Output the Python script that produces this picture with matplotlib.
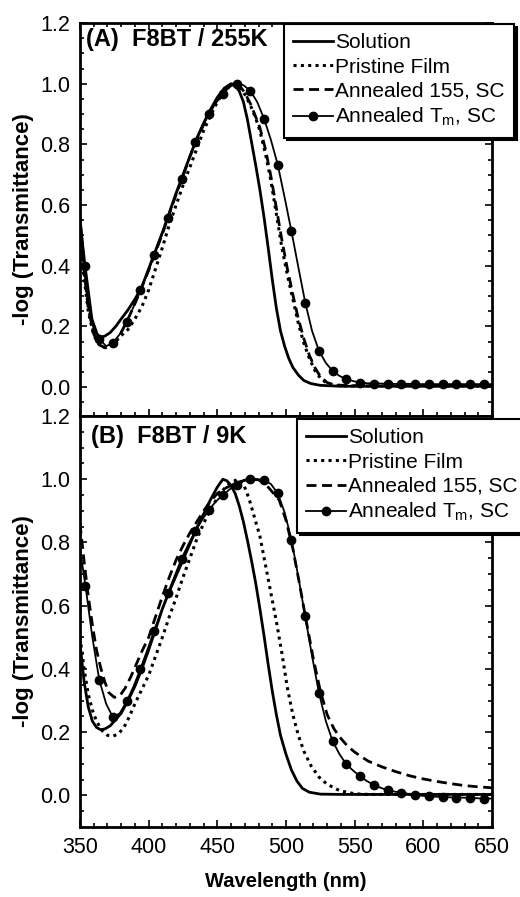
import matplotlib
matplotlib.use('Agg')
import matplotlib.pyplot as plt
from matplotlib.ticker import MultipleLocator

plt.rcParams['font.family'] = ['Liberation Sans', 'DejaVu Sans']
plt.rcParams['mathtext.fontset'] = 'custom'
plt.rcParams['mathtext.rm'] = 'Liberation Sans'
plt.rcParams['mathtext.it'] = 'Liberation Sans:italic'
plt.rcParams['mathtext.bf'] = 'Liberation Sans:bold'

# ---------------- Panel A: F8BT / 255K ----------------
a_sol_wl = [350, 353, 356, 359, 362, 365, 368, 372, 376, 380, 385, 390, 395, 400, 405, 410,
            415, 420, 425, 430, 435, 440, 445, 450, 455, 460, 463, 466, 469, 472, 475, 478,
            481, 484, 487, 490, 493, 496, 499, 502, 505, 509, 513, 518, 525, 540, 560, 600, 650]
a_sol_v = [0.56, 0.40, 0.28, 0.21, 0.175, 0.165, 0.168, 0.18, 0.20, 0.225, 0.255, 0.29, 0.33,
           0.39, 0.45, 0.51, 0.575, 0.64, 0.70, 0.76, 0.82, 0.87, 0.915, 0.955, 0.985, 1.0,
           0.995, 0.975, 0.94, 0.88, 0.805, 0.73, 0.65, 0.56, 0.46, 0.355, 0.26, 0.185, 0.135,
           0.095, 0.065, 0.04, 0.022, 0.012, 0.006, 0.003, 0.003, 0.003, 0.003]

a_pri_wl = [350, 353, 356, 360, 364, 368, 372, 376, 380, 385, 390, 395, 400, 405, 410, 415,
            420, 425, 430, 435, 440, 445, 450, 455, 460, 463, 466, 470, 474, 478, 481, 485,
            489, 493, 497, 501, 505, 509, 513, 517, 521, 525, 530, 535, 545, 600, 650]
a_pri_v = [0.50, 0.36, 0.25, 0.17, 0.14, 0.13, 0.135, 0.15, 0.17, 0.19, 0.225, 0.265, 0.32,
           0.39, 0.46, 0.535, 0.60, 0.665, 0.725, 0.785, 0.845, 0.895, 0.94, 0.975, 0.995,
           1.0, 0.99, 0.965, 0.93, 0.885, 0.845, 0.77, 0.68, 0.57, 0.46, 0.37, 0.29, 0.21,
           0.145, 0.095, 0.055, 0.03, 0.012, 0.006, 0.004, 0.004, 0.004]

a_155_wl = [350, 353, 356, 360, 364, 368, 372, 376, 380, 385, 390, 395, 400, 405, 410, 415,
            420, 425, 430, 435, 440, 445, 450, 455, 460, 463, 466, 470, 474, 478, 481, 485,
            489, 493, 497, 501, 505, 509, 513, 517, 521, 525, 530, 535, 545, 600, 650]
a_155_v = [0.55, 0.38, 0.26, 0.175, 0.14, 0.13, 0.135, 0.15, 0.18, 0.225, 0.275, 0.33, 0.385,
           0.445, 0.505, 0.57, 0.635, 0.695, 0.76, 0.815, 0.865, 0.91, 0.948, 0.978, 0.996,
           1.0, 0.995, 0.97, 0.935, 0.89, 0.855, 0.785, 0.695, 0.59, 0.485, 0.39, 0.305,
           0.225, 0.16, 0.105, 0.065, 0.035, 0.015, 0.008, 0.005, 0.005, 0.005]

a_tm_wl = [350] + list(range(354, 650, 5))
a_tm_v = [0.56, 0.40, 0.225, 0.16, 0.135, 0.146, 0.175, 0.215, 0.265, 0.32, 0.375, 0.434,
          0.495, 0.558, 0.622, 0.686, 0.748, 0.807, 0.857, 0.90, 0.937, 0.966, 0.99, 1.0,
          0.995, 0.977, 0.94, 0.885, 0.815, 0.733, 0.625, 0.513, 0.395, 0.279, 0.185, 0.12,
          0.08, 0.053, 0.037, 0.026, 0.02, 0.015, 0.013, 0.012, 0.012, 0.011, 0.011, 0.011,
          0.011, 0.010, 0.010, 0.010, 0.010, 0.010, 0.010, 0.010, 0.010, 0.010, 0.010, 0.010,
          0.010]

# ---------------- Panel B: F8BT / 9K ----------------
b_sol_wl = [350, 353, 356, 359, 362, 365, 368, 372, 376, 380, 385, 390, 395, 400, 405, 410,
            415, 420, 425, 430, 435, 440, 445, 450, 454, 457, 460, 463, 466, 469, 472, 475,
            478, 481, 484, 487, 490, 493, 496, 500, 504, 508, 512, 517, 525, 540, 600, 650]
b_sol_v = [0.48, 0.36, 0.28, 0.235, 0.215, 0.208, 0.21, 0.22, 0.24, 0.26, 0.30, 0.345, 0.40,
           0.46, 0.525, 0.59, 0.645, 0.695, 0.745, 0.795, 0.845, 0.89, 0.935, 0.975, 1.0,
           0.995, 0.98, 0.955, 0.915, 0.865, 0.805, 0.74, 0.67, 0.59, 0.505, 0.415, 0.33,
           0.255, 0.19, 0.13, 0.08, 0.045, 0.022, 0.01, 0.004, 0.003, 0.003, 0.003]

b_pri_wl = [350, 353, 356, 359, 362, 366, 370, 374, 378, 382, 386, 390, 395, 400, 405, 410,
            415, 420, 425, 430, 435, 440, 445, 450, 455, 460, 465, 469, 473, 477, 481, 485,
            489, 493, 497, 501, 505, 509, 513, 518, 524, 530, 539, 550, 560, 650]
b_pri_v = [0.50, 0.40, 0.32, 0.27, 0.235, 0.205, 0.19, 0.187, 0.195, 0.215, 0.25, 0.29, 0.335,
           0.38, 0.44, 0.50, 0.565, 0.625, 0.69, 0.75, 0.81, 0.86, 0.905, 0.94, 0.97, 0.99,
           1.0, 0.985, 0.94, 0.88, 0.82, 0.73, 0.64, 0.55, 0.45, 0.34, 0.255, 0.19, 0.14,
           0.095, 0.058, 0.035, 0.015, 0.005, 0.003, 0.003]

b_155_wl = [350, 353, 356, 359, 362, 365, 368, 371, 375, 379, 383, 387, 391, 395, 400, 405,
            410, 415, 420, 425, 430, 435, 440, 445, 450, 455, 460, 465, 470, 475, 480, 485,
            490, 495, 500, 505, 510, 515, 520, 525, 530, 535, 540, 545, 550, 555, 560, 570,
            580, 590, 600, 610, 620, 630, 640, 650]
b_155_v = [0.86, 0.74, 0.63, 0.54, 0.46, 0.405, 0.36, 0.325, 0.31, 0.315, 0.34, 0.375, 0.415,
           0.455, 0.50, 0.565, 0.63, 0.69, 0.745, 0.79, 0.83, 0.865, 0.90, 0.93, 0.955, 0.97,
           0.98, 0.99, 0.997, 1.0, 0.998, 0.985, 0.96, 0.935, 0.87, 0.78, 0.665, 0.545, 0.43,
           0.33, 0.255, 0.21, 0.18, 0.155, 0.137, 0.122, 0.108, 0.09, 0.075, 0.062, 0.052,
           0.044, 0.037, 0.031, 0.027, 0.024]

b_tm_wl = [350] + list(range(354, 650, 5))
b_tm_v = [0.78, 0.662, 0.50, 0.366, 0.29, 0.247, 0.26, 0.297, 0.345, 0.40, 0.46, 0.521, 0.58,
          0.639, 0.695, 0.749, 0.795, 0.836, 0.872, 0.904, 0.93, 0.95, 0.968, 0.982, 0.995,
          1.0, 1.0, 0.997, 0.985, 0.955, 0.895, 0.808, 0.69, 0.566, 0.44, 0.324, 0.235, 0.171,
          0.13, 0.098, 0.078, 0.06, 0.045, 0.033, 0.024, 0.016, 0.012, 0.009, 0.005, 0.001,
          -0.001, -0.003, -0.004, -0.005, -0.006, -0.007, -0.007, -0.008, -0.009, -0.01,
          -0.01]

labels = ['Solution', 'Pristine Film', 'Annealed 155, SC', r'Annealed T$_{\mathrm{m}}$, SC']
x_ticks = [350, 400, 450, 500, 550, 600, 650]
y_ticks = [0.0, 0.2, 0.4, 0.6, 0.8, 1.0, 1.2]

W, H = 520, 897
fig = plt.figure(figsize=(W / 100, H / 100), dpi=100)
ax1 = fig.add_axes([80 / W, 1 - 416 / H, 412 / W, 393 / H])
ax2 = fig.add_axes([80 / W, 1 - 827 / H, 412 / W, 411 / H])

TICK_FS = 15.5
LEG_FS = 15
LAB_FS = 16


def draw(ax, sol, pri, ann, tm):
    ax.plot(*sol, color='black', lw=2.0, ls='-', label=labels[0])
    ax.plot(*pri, color='black', lw=2.2, ls=(0, (1, 1.4)), label=labels[1])
    ax.plot(*ann, color='black', lw=2.0, ls=(0, (3.6, 2.0)), label=labels[2])
    ax.plot(*tm, color='black', lw=1.3, ls='-', marker='o', ms=6, markevery=(1, 2),
            label=labels[3])


draw(ax1, (a_sol_wl, a_sol_v), (a_pri_wl, a_pri_v), (a_155_wl, a_155_v), (a_tm_wl, a_tm_v))
draw(ax2, (b_sol_wl, b_sol_v), (b_pri_wl, b_pri_v), (b_155_wl, b_155_v), (b_tm_wl, b_tm_v))

for ax, ylo in ((ax1, -0.095), (ax2, -0.1)):
    ax.set_xlim(350, 650)
    ax.set_ylim(ylo, 1.2)
    ax.set_xticks(x_ticks)
    ax.set_yticks(y_ticks)
    ax.xaxis.set_minor_locator(MultipleLocator(10))
    ax.yaxis.set_minor_locator(MultipleLocator(0.05))
    ax.tick_params(which='both', direction='in', right=True, width=1.2,
                   labelsize=TICK_FS, pad=7)
    ax.tick_params(which='major', length=5)
    ax.tick_params(which='minor', length=3)
    for s in ax.spines.values():
        s.set_linewidth(2.0)
    ax.set_ylabel('-log (Transmittance)', fontsize=LAB_FS, fontweight='bold')
    ax.yaxis.set_label_coords(-0.112, 0.5)
    ax.set_yticklabels(['0.0', '0.2', '0.4', '0.6', '0.8', '1.0', '1.2'])

ax1.tick_params(which='both', top=True, labelbottom=False)
ax2.tick_params(which='both', top=False)
ax2.set_xticklabels([str(v) for v in x_ticks])
ax2.set_xlabel('Wavelength (nm)', fontsize=14.5, fontweight='bold')
ax2.xaxis.set_label_coords(0.5, -0.11)

ax1.text(0.0146, 0.957, '(A)  F8BT / 255K', transform=ax1.transAxes, ha='left', va='center',
         fontsize=17, fontweight='bold')
ax2.text(0.026, 0.95, '(B)  F8BT / 9K', transform=ax2.transAxes, ha='left', va='center',
         fontsize=17, fontweight='bold')

leg_kw = dict(loc='upper left', borderaxespad=0, fontsize=LEG_FS, frameon=True, fancybox=False,
              edgecolor='black', framealpha=1, handlelength=1.9, handletextpad=0.1,
              labelspacing=0.25, borderpad=0.45,
              shadow={'color': 'black', 'alpha': 1})
l1 = ax1.legend(bbox_to_anchor=((284 - 80) / 412, (416 - 24) / 393), **leg_kw)
l2 = ax2.legend(bbox_to_anchor=((297 - 80) / 412, (827 - 419) / 411), **leg_kw)
for lg in (l1, l2):
    lg.get_frame().set_linewidth(1.5)
    lg.set_zorder(10)

fig.savefig('out.png', dpi=100)
